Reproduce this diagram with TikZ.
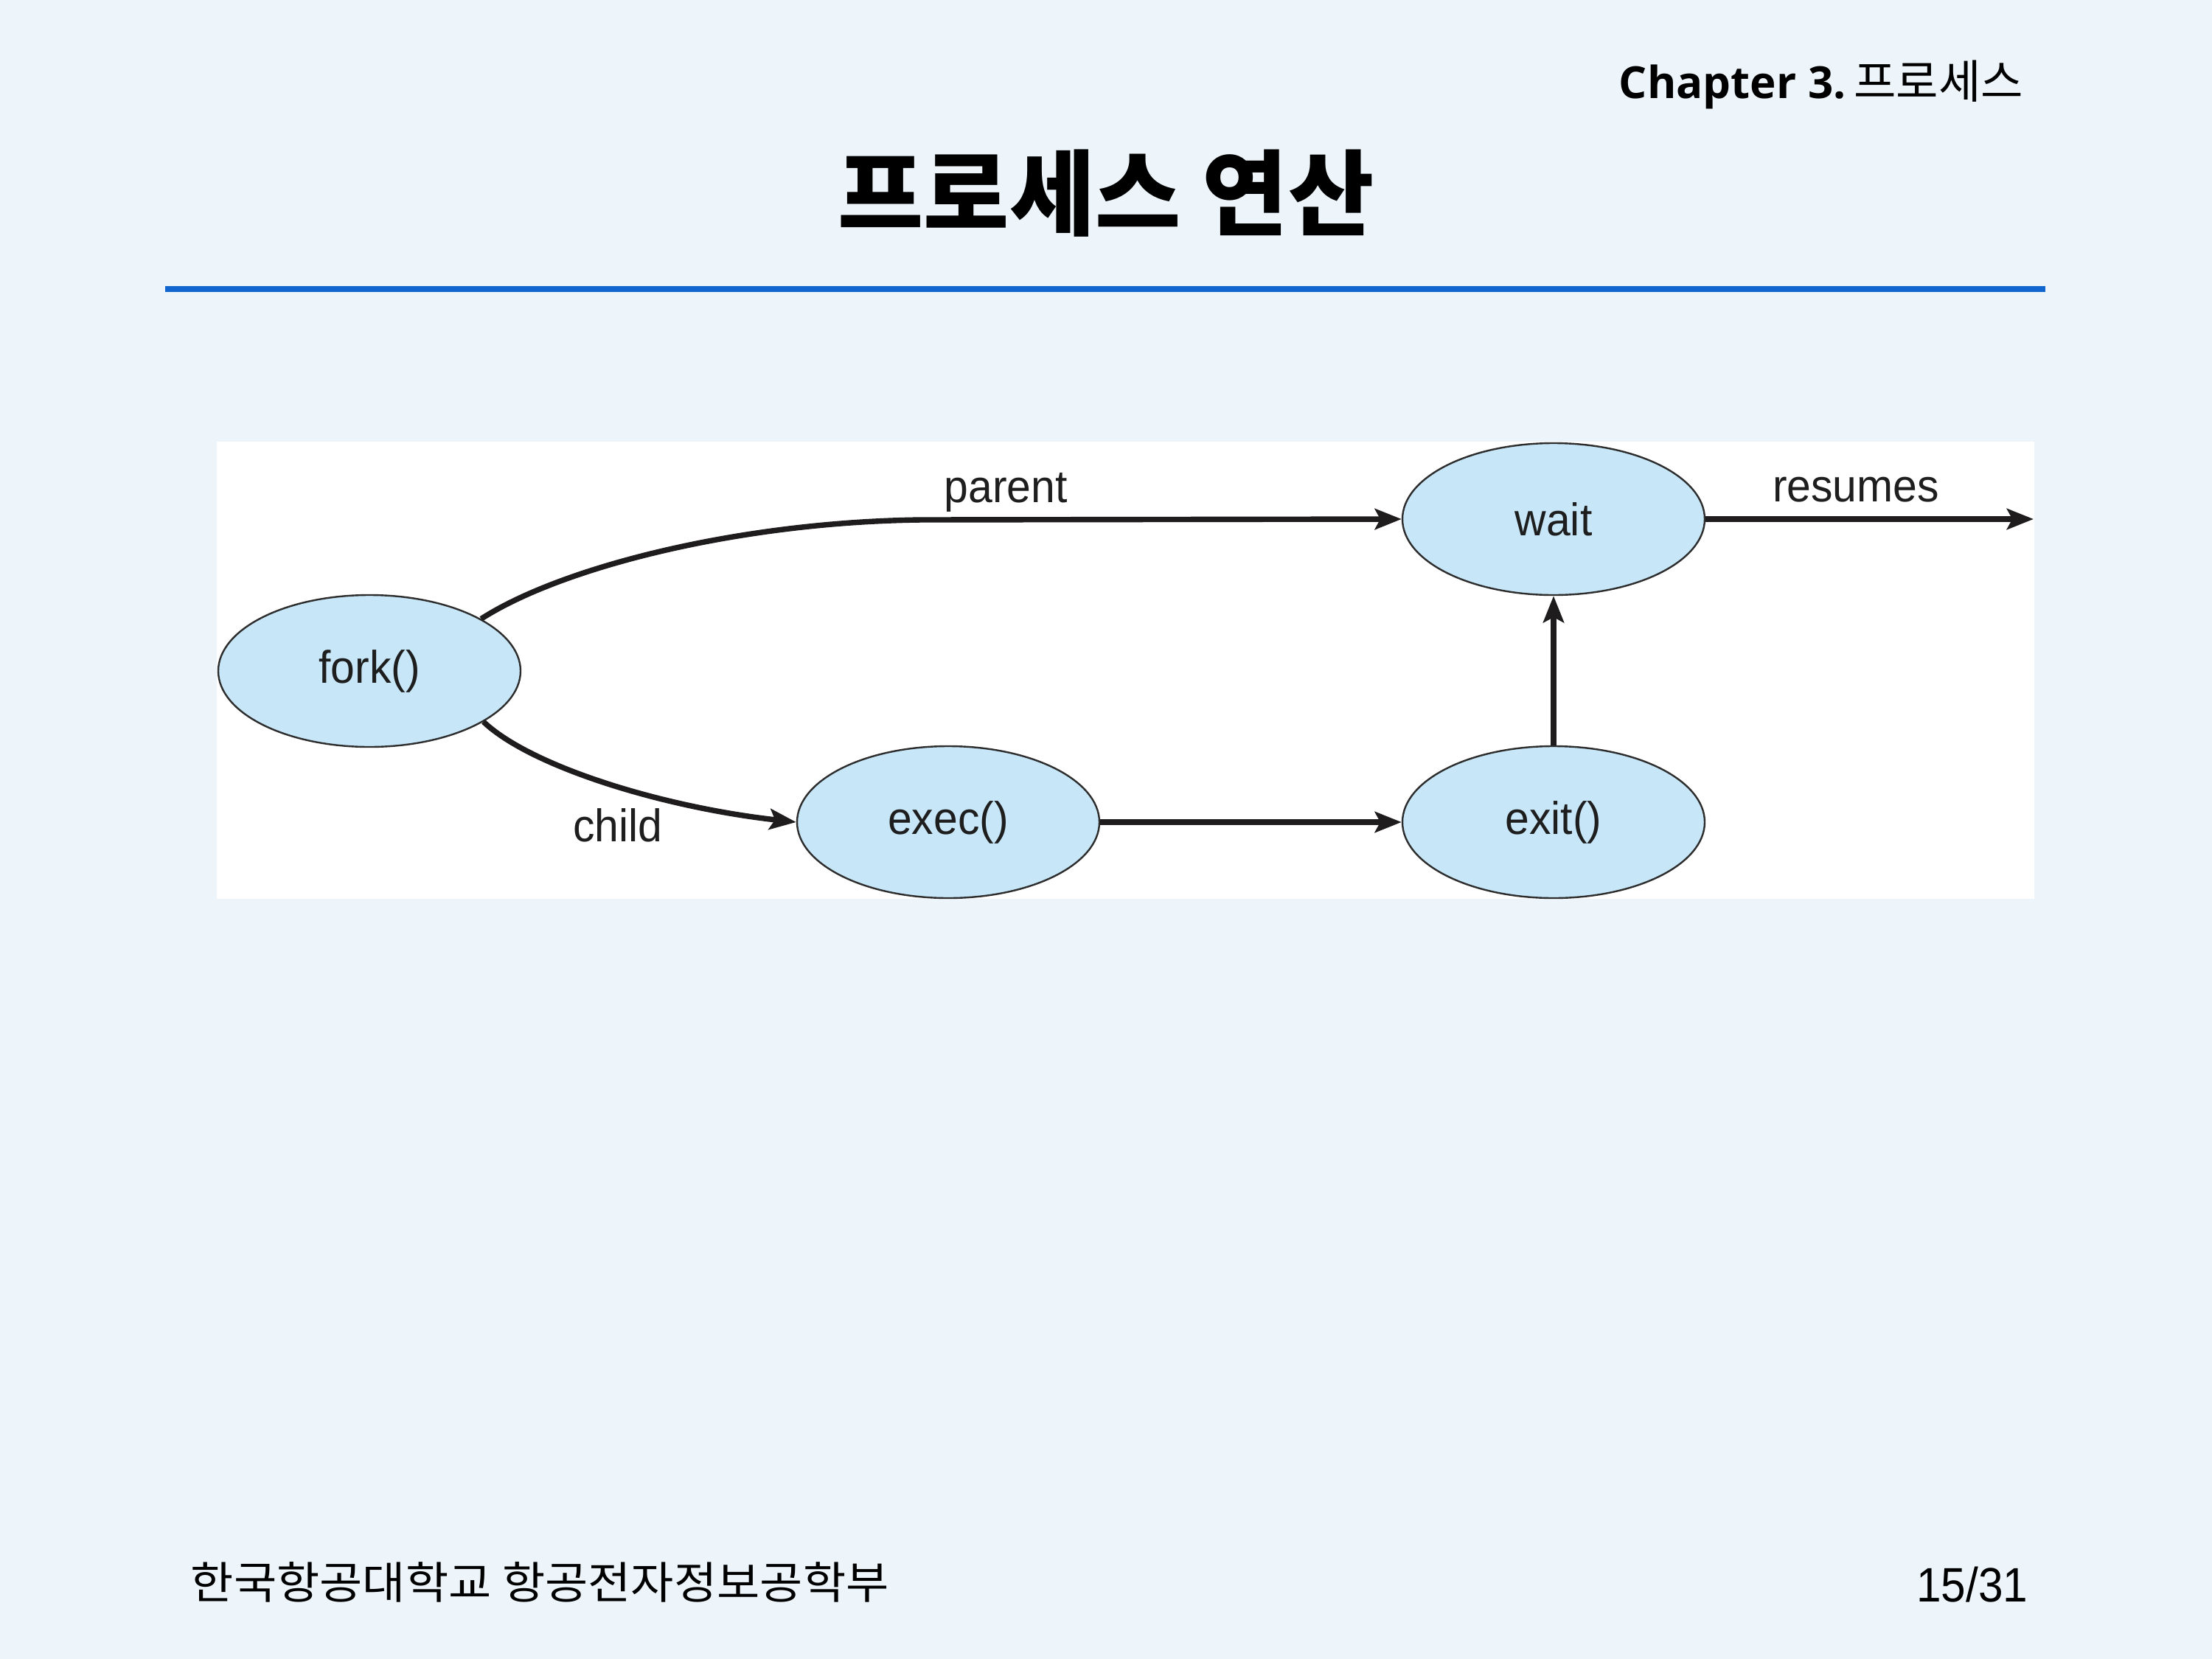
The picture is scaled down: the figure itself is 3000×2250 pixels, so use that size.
\documentclass[tikz,border=0pt]{standalone}
\usepackage{fontspec}
\usepackage{graphicx}
\usetikzlibrary{shapes.geometric,arrows.meta}
\setmainfont{Liberation Sans}
\newfontfamily\krfont{Noto Sans CJK KR}
\newfontfamily\opensans{Open Sans}
\definecolor{bg}{RGB}{237,245,250}
\definecolor{rulec}{RGB}{16,102,206}
\definecolor{ellfill}{RGB}{199,231,248}
\definecolor{ellline}{RGB}{45,45,45}
\definecolor{txt}{RGB}{30,30,30}
\definecolor{linec}{RGB}{30,28,28}
\newcommand\dfont{\fontsize{15.5}{18}\selectfont}
\newcommand\nx[1]{\scalebox{0.95}[1]{#1}}
\begin{document}
\begin{tikzpicture}[x=0.25pt,y=-0.25pt,
  proc/.style={ellipse, draw=ellline, line width=0.6pt, fill=ellfill,
    minimum width=102.5pt, minimum height=51.5pt, inner sep=0pt,
    font=\dfont, text=txt},
  conn/.style={line width=1.85pt, draw=linec,
    -{Stealth[length=9pt,width=7pt,inset=1.8pt]}},
  lab/.style={font=\dfont, text=txt, inner sep=0pt, anchor=base}]
\useasboundingbox (0,0) rectangle (3000,2250);
\fill[bg] (0,0) rectangle (3000,2250);
% header
\node[inner sep=0pt, anchor=base east] (chap) at (2745,133)
  {{\opensans\bfseries\fontsize{15}{18}\selectfont Chapter 3.}\ {\krfont\fontsize{15.6}{18}\selectfont 프로세스}};
\node[inner sep=0pt] (title) at (1500,262)
  {\krfont\bfseries\fontsize{31.6}{36}\selectfont 프로세스 연산};
\draw[rulec, line width=2pt] (224,392) -- (2774,392);
% diagram panel
\fill[white] (294,599) rectangle (2759,1219);
\node[proc] (fork) at (501,910) {\nx{fork()}};
\node[proc] (exec) at (1286,1115) {\nx{exec()}};
\node[proc] (wait) at (2107,704) {\nx{wait}};
\node[proc] (exit) at (2107,1115) {\nx{exit()}};
\coordinate (pbend) at (1250,705);
\coordinate (rend) at (2758,704);
\draw[line width=1.85pt, draw=linec] (fork.25.5) .. controls (760,770) and (1000,708) .. (pbend);
\draw[conn] (pbend) -- (wait.west);
\draw[conn] (fork.-24.7) .. controls (720,1040) and (900,1095) .. (exec.west);
\draw[conn] (exec.east) -- (exit.west);
\draw[conn] (exit.north) -- (wait.south);
\draw[conn] (wait.east) -- (rend);
\node[lab] (lparent) at (1364,681) {\nx{parent}};
\node[lab] (lresumes) at (2517,680) {\nx{resumes}};
\node[lab] (lchild) at (838,1141) {\nx{child}};
% footer
\node[inner sep=0pt, anchor=west] (footer) at (258,2146)
  {\scalebox{1.056}[1]{\krfont\fontsize{15}{17}\selectfont 한국항공대학교 항공전자정보공학부}};
\node[inner sep=0pt, anchor=base east] (page) at (2751,2172)
  {\scalebox{0.92}[1]{\fontsize{16.4}{19}\selectfont 15/31}};
\end{tikzpicture}
\end{document}
